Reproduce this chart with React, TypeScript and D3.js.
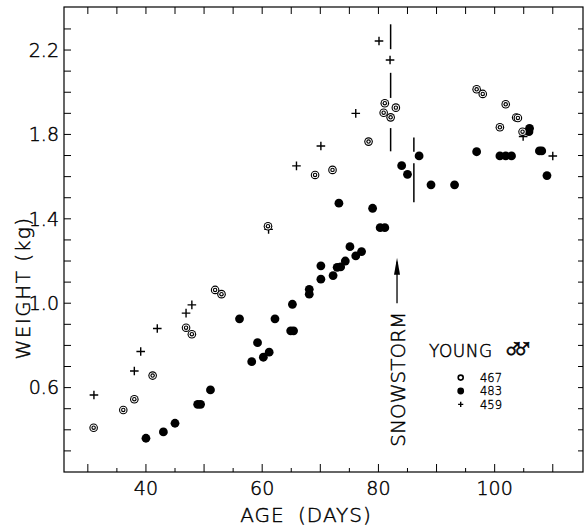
import React from "react"
import * as d3 from "d3"

const W = 588
const H = 529
const margin = { top: 7, right: 5, bottom: 57, left: 64 }

// axes
const ageDomain = [25.9, 115.2]
const weightDomain = [0.2, 2.404]
const ageTicks = [30, 35, 40, 45, 50, 55, 60, 65, 70, 75, 80, 85, 90, 95, 100, 105, 110]
const ageLabels = [40, 60, 80, 100]
const weightTicks = [0.3, 0.4, 0.5, 0.6, 0.7, 0.8, 0.9, 1.0, 1.1, 1.2, 1.3, 1.4, 1.5, 1.6, 1.7, 1.8, 1.9, 2.0, 2.1, 2.2, 2.3]
const weightLabels = [0.6, 1.0, 1.4, 1.8, 2.2]

// young males: [age (days), weight (kg)]
const male467 = [
  [31.0, 0.41], [36.1, 0.494], [38.0, 0.545], [41.15, 0.657], [46.9, 0.884], [47.9, 0.853],
  [51.9, 1.063], [53.0, 1.043], [61.0, 1.365], [69.1, 1.608], [72.1, 1.632], [78.3, 1.766],
  [80.9, 1.903], [81.1, 1.948], [82.1, 1.881], [83.0, 1.927], [96.9, 2.014], [97.95, 1.992],
  [100.9, 1.834], [101.9, 1.943], [103.7, 1.88], [104.0, 1.878], [104.8, 1.813],
]
const male483 = [
  [40.0, 0.36], [43.0, 0.39], [45.0, 0.431], [48.9, 0.521], [49.4, 0.521], [51.1, 0.589],
  [56.1, 0.926], [58.2, 0.723], [59.2, 0.813], [60.2, 0.744], [61.2, 0.768], [62.2, 0.926],
  [65.2, 0.995], [64.9, 0.869], [65.4, 0.869], [68.1, 1.066], [68.1, 1.043], [70.1, 1.177],
  [70.1, 1.114], [72.2, 1.131], [72.9, 1.17], [73.5, 1.172], [74.3, 1.2], [73.2, 1.474],
  [75.1, 1.268], [76.1, 1.224], [77.1, 1.245], [79.0, 1.45], [80.3, 1.358], [81.1, 1.358],
  [84.0, 1.652], [85.0, 1.611], [87.0, 1.698], [89.05, 1.561], [93.1, 1.561], [96.9, 1.718],
  [100.9, 1.698], [101.9, 1.698], [102.9, 1.698], [106.0, 1.829], [105.9, 1.813],
  [107.7, 1.722], [108.1, 1.722], [109.0, 1.605],
]
const male459 = [
  [31.05, 0.565], [38.0, 0.679], [39.1, 0.771], [41.95, 0.88], [46.9, 0.953], [47.9, 0.992],
  [61.1, 1.35], [65.9, 1.651], [70.1, 1.745], [76.1, 1.9], [80.1, 2.243], [82.0, 2.153],
  [104.9, 1.79], [110.0, 1.698],
]

// snowstorm markers
const stormAges = [82.1, 86.1]
const stormSegsA = [[2.322, 2.204], [2.092, 1.973], [1.83, 1.72]]
const stormSegsB = [[1.785, 1.718], [1.664, 1.479]]
const arrowAge = 83.2
const arrowFrom = 1.0
const arrowTo = 1.216
const stormLabelAt = [83.35, 0.64]

const legendNames = ["467", "483", "459"]

const font = "'DejaVu Sans', sans-serif"
// thin face, thickened a little so it reads black like the print
const txt = { fontFamily: font, fontWeight: 300, fill: "#000", stroke: "#000", strokeWidth: 0.45 }

function DoubleRing({ cx, cy, r }: { cx: number; cy: number; r: number }) {
  return (
    <g>
      <circle cx={cx} cy={cy} r={r} fill="#000" />
      <circle cx={cx} cy={cy} r={r * 0.74} fill="#fff" />
      <circle cx={cx} cy={cy} r={r * 0.52} fill="#000" />
      <circle cx={cx} cy={cy} r={r * 0.26} fill="#fff" />
    </g>
  )
}

function Plus({ cx, cy, s }: { cx: number; cy: number; s: number }) {
  return (
    <path d={`M${cx - s},${cy}H${cx + s}M${cx},${cy - s}V${cy + s}`} stroke="#000" strokeWidth={1.4} />
  )
}

export default function App() {
  const x = d3.scaleLinear().domain(ageDomain).range([margin.left, W - margin.right])
  const y = d3.scaleLinear().domain(weightDomain).range([H - margin.bottom, margin.top])
  const [x0, x1] = x.range()
  const [y0, y1] = y.range()

  const lx = 460.7
  const ly = [377.6, 391, 404.4]

  return (
    <svg width={W} height={H} style={{ position: "absolute", left: 0, top: 0, background: "#fff" }}>
      <rect x={x0} y={y1} width={x1 - x0} height={y0 - y1} fill="none" stroke="#000" strokeWidth={1.2} />

      {ageTicks.map((t) => {
        const major = t % 10 === 0
        return (
          <g key={"ax" + t}>
            <line x1={x(t)} x2={x(t)} y1={y0} y2={y0 - (major ? 8 : 4)} stroke="#000" strokeWidth={1} />
            <line x1={x(t)} x2={x(t)} y1={y1} y2={y1 + 7} stroke="#000" strokeWidth={1} />
          </g>
        )
      })}
      {weightTicks.map((t) => (
        <g key={"wy" + t}>
          <line x1={x0} x2={x0 + 7} y1={y(t)} y2={y(t)} stroke="#000" strokeWidth={1} />
          <line x1={x1} x2={x1 - 5} y1={y(t)} y2={y(t)} stroke="#000" strokeWidth={1} />
        </g>
      ))}

      {ageLabels.map((t) => (
        <text key={"al" + t} x={x(t)} y={495} textAnchor="middle" fontSize={19} {...txt}>
          {t}
        </text>
      ))}
      {weightLabels.map((t) => (
        <text key={"wl" + t} x={59} y={y(t)} dy="0.36em" textAnchor="end" fontSize={19} {...txt}>
          {d3.format(".1f")(t)}
        </text>
      ))}

      <text x={306} y={522} textAnchor="middle" fontSize={20} letterSpacing={1} wordSpacing={6} {...txt}>
        AGE (DAYS)
      </text>
      <text transform="translate(30,288) rotate(-90)" textAnchor="middle" fontSize={20} letterSpacing={1.5} {...txt}>
        WEIGHT (kg)
      </text>

      {/* snowstorm */}
      {stormSegsA.map((s, i) => (
        <line key={"sa" + i} x1={x(stormAges[0])} x2={x(stormAges[0])} y1={y(s[0])} y2={y(s[1])} stroke="#000" strokeWidth={1.5} />
      ))}
      {stormSegsB.map((s, i) => (
        <line key={"sb" + i} x1={x(stormAges[1])} x2={x(stormAges[1])} y1={y(s[0])} y2={y(s[1])} stroke="#000" strokeWidth={1.5} />
      ))}
      <line x1={x(arrowAge)} x2={x(arrowAge)} y1={y(arrowFrom)} y2={y(arrowTo) + 4} stroke="#000" strokeWidth={1.3} />
      <path
        d={`M${x(arrowAge)},${y(arrowTo)}L${x(arrowAge) - 3},${y(arrowTo) + 17}L${x(arrowAge) + 3},${y(arrowTo) + 17}Z`}
        fill="#000"
      />
      <text
        transform={`translate(${x(stormLabelAt[0]) + 7.5},${y(stormLabelAt[1])}) rotate(-90)`}
        textAnchor="middle"
        fontSize={20}
        {...txt}
      >
        SNOWSTORM
      </text>

      {/* points */}
      {male459.map((d, i) => (
        <Plus key={"p" + i} cx={x(d[0])} cy={y(d[1])} s={4.3} />
      ))}
      {male483.map((d, i) => (
        <circle key={"f" + i} cx={x(d[0])} cy={y(d[1])} r={4.4} fill="#000" />
      ))}
      {male467.map((d, i) => (
        <DoubleRing key={"r" + i} cx={x(d[0])} cy={y(d[1])} r={4.3} />
      ))}

      {/* legend */}
      <text x={429} y={357} fontSize={17} letterSpacing={0.5} {...txt}>
        YOUNG
      </text>
      <text x={502} y={359} fontSize={30} letterSpacing={-13} {...txt} strokeWidth={0.6}>
        ♂♂
      </text>
      <circle cx={lx} cy={ly[0]} r={2.5} fill="none" stroke="#000" strokeWidth={1.6} />
      <circle cx={lx} cy={ly[1]} r={3.4} fill="#000" />
      <Plus cx={lx} cy={ly[2]} s={2.6} />
      {legendNames.map((n, i) => (
        <text key={n} x={480} y={ly[i]} dy="0.36em" fontSize={11.5} {...txt} strokeWidth={0.35}>
          {n}
        </text>
      ))}
    </svg>
  )
}
